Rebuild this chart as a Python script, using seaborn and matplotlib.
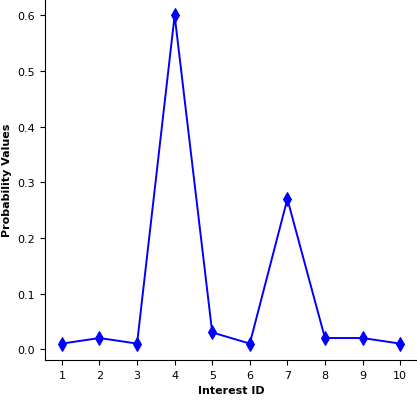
import matplotlib
matplotlib.use("Agg")
import matplotlib.pyplot as plt
import seaborn as sns
import pandas as pd

interest_ids = [1, 2, 3, 4, 5, 6, 7, 8, 9, 10]
probabilities = [0.01, 0.02, 0.01, 0.60, 0.03, 0.01, 0.27, 0.02, 0.02, 0.01]

df = pd.DataFrame({"Interest ID": interest_ids, "Probability Values": probabilities})

sns.set_style("ticks", {"axes.edgecolor": "black", "text.color": "black",
                        "xtick.color": "black", "ytick.color": "black",
                        "axes.labelcolor": "black"})
plt.rcParams['font.family'] = ['DejaVu Sans']
fig = plt.figure(figsize=(4.17, 4.02), dpi=100)
ax = fig.add_axes([45/417, 41/402, 372/417, 361/402])
sns.lineplot(data=df, x="Interest ID", y="Probability Values", marker="d",
             color="blue", markersize=7, markeredgecolor="blue", linewidth=1.4, ax=ax)
ax.set_xticks(interest_ids)
ax.set_xlabel("Interest ID", fontweight="bold", fontsize=8)
ax.set_ylabel("Probability Values", fontweight="bold", fontsize=8)
ax.tick_params(labelsize=8, length=3.5, width=0.8)
for s in ax.spines.values():
    s.set_linewidth(0.8)
sns.despine(ax=ax)
fig.savefig("out.png", dpi=100)
